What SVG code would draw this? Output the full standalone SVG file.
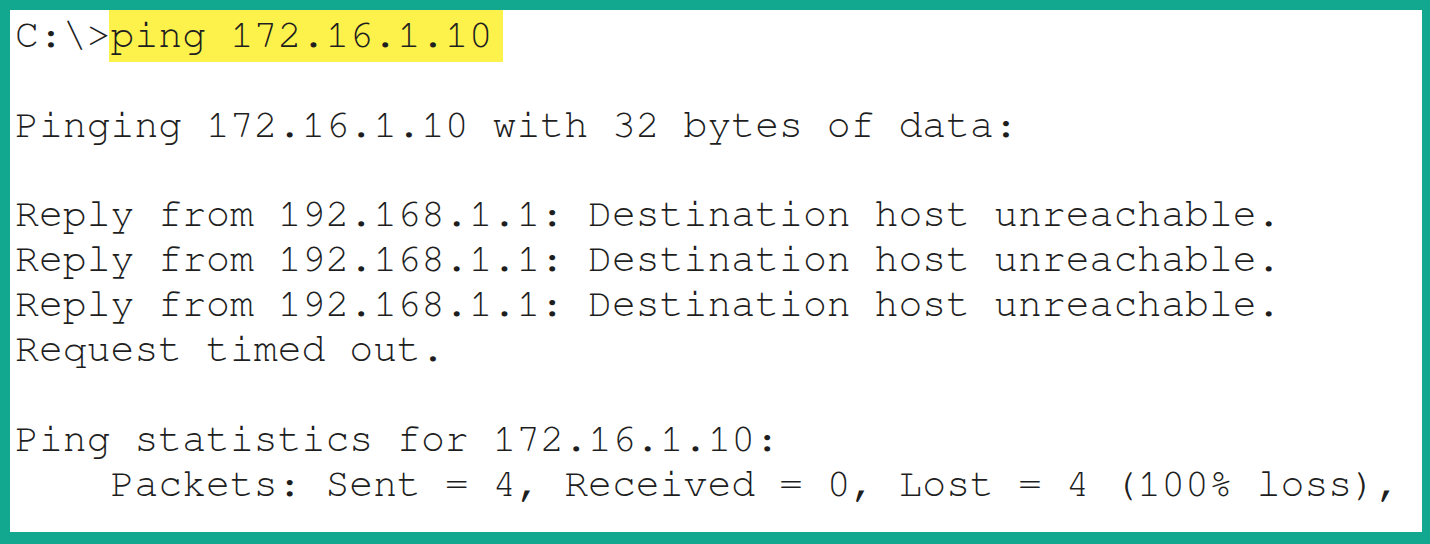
<svg xmlns="http://www.w3.org/2000/svg" width="1430" height="544" viewBox="0 0 1430 544">
<style>
.t{font-family:"Nimbus Mono PS","Nimbus Mono L","FreeMono","Courier New","Liberation Mono",monospace;font-size:39.8px;fill:#1e1e1e;white-space:pre}
</style>
<rect x="0" y="0" width="1430" height="544" fill="#12a88f"/>
<rect x="10" y="10" width="1412" height="522" fill="#ffffff"/>
<rect x="109" y="10" width="394" height="52" fill="#fdf24c"/>
<g id="terminal">
<text class="t" x="15" y="47" xml:space="preserve">C:\&gt;ping 172.16.1.10</text>
<text class="t" x="15" y="137" xml:space="preserve">Pinging 172.16.1.10 with 32 bytes of data:</text>
<text class="t" x="15" y="226" xml:space="preserve">Reply from 192.168.1.1: Destination host unreachable.</text>
<text class="t" x="15" y="271" xml:space="preserve">Reply from 192.168.1.1: Destination host unreachable.</text>
<text class="t" x="15" y="316" xml:space="preserve">Reply from 192.168.1.1: Destination host unreachable.</text>
<text class="t" x="15" y="361" xml:space="preserve">Request timed out.</text>
<text class="t" x="15" y="451" xml:space="preserve">Ping statistics for 172.16.1.10:</text>
<text class="t" x="15" y="496" xml:space="preserve">    Packets: Sent = 4, Received = 0, Lost = 4 (100% loss),</text>
</g>
</svg>
